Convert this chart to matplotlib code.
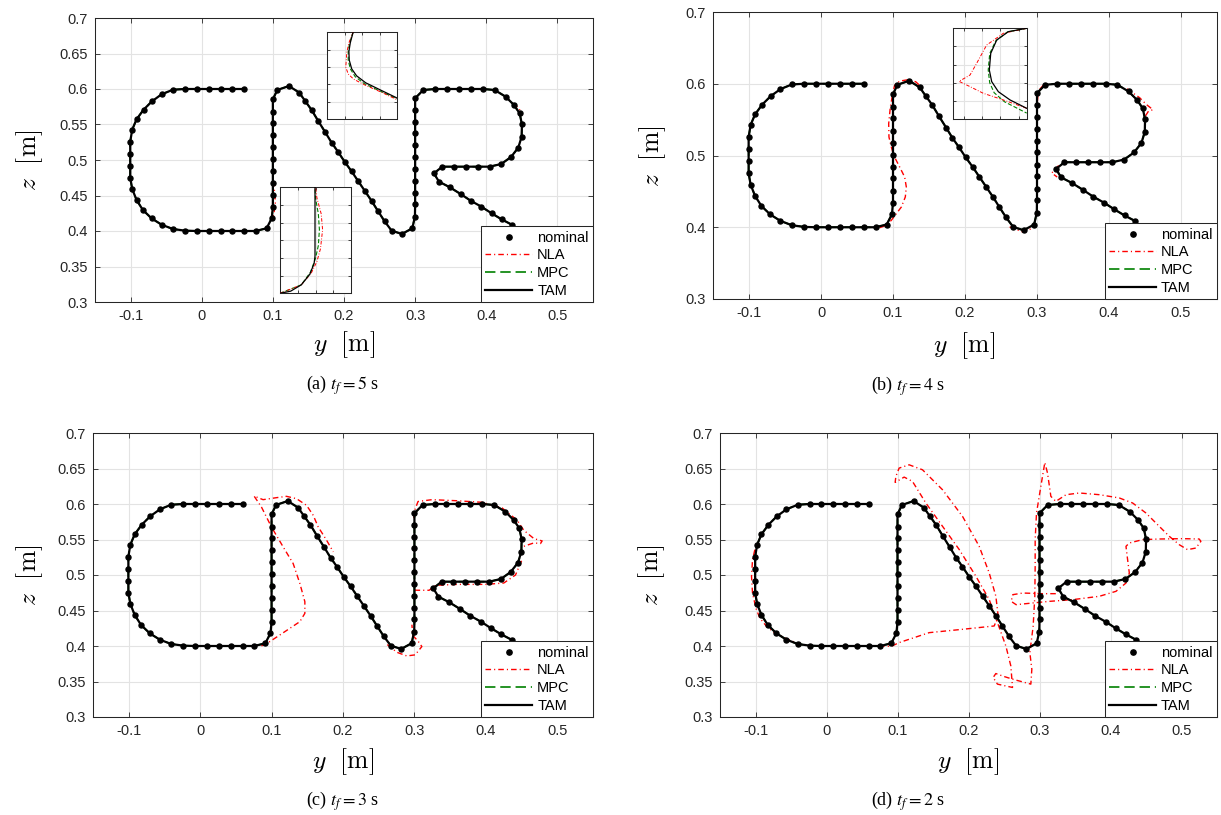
import matplotlib
matplotlib.use("Agg")
import matplotlib.pyplot as plt
from matplotlib.lines import Line2D

plt.rcParams['font.family'] = ['Liberation Sans', 'DejaVu Sans']
plt.rcParams['lines.scale_dashes'] = False

# ---------------- data (metres) ----------------
NOM_Y = [0.0598, 0.0429, 0.0265, 0.0097, -0.0072, -0.0236, -0.0405, -0.0564, -0.0700, -0.0817,
         -0.0916, -0.0977, -0.1005, -0.1005, -0.1005, -0.1005, -0.0977, -0.0916, -0.0827, -0.0705,
         -0.0564, -0.0405, -0.0236, -0.0072, 0.0097, 0.0265, 0.0429, 0.0598, 0.0757, 0.0912,
         0.0985, 0.1000, 0.1000, 0.1000, 0.1000, 0.1000, 0.1000, 0.1000, 0.1000, 0.1000,
         0.1000, 0.1062, 0.1226, 0.1370, 0.1455, 0.1545, 0.1638, 0.1737, 0.1826, 0.1915,
         0.2008, 0.2107, 0.2201, 0.2294, 0.2388, 0.2477, 0.2571, 0.2669, 0.2814, 0.2960,
         0.2997, 0.3000, 0.3000, 0.3000, 0.3000, 0.3000, 0.3000, 0.3000, 0.3000, 0.3000,
         0.3000, 0.3114, 0.3283, 0.3447, 0.3616, 0.3784, 0.3953, 0.4117, 0.4272, 0.4389,
         0.4469, 0.4501, 0.4497, 0.4450, 0.4347, 0.4211, 0.4047, 0.3878, 0.3710, 0.3545,
         0.3381, 0.3264, 0.3335, 0.3489, 0.3639, 0.3780, 0.3930, 0.4075, 0.4216, 0.4366]
NOM_Z = [0.600, 0.600, 0.600, 0.600, 0.600, 0.600, 0.599, 0.5925, 0.5826, 0.5709,
         0.5573, 0.5427, 0.5258, 0.5089, 0.4920, 0.4751, 0.4592, 0.4437, 0.4296, 0.4178,
         0.4089, 0.4028, 0.4005, 0.400, 0.400, 0.400, 0.400, 0.400, 0.400, 0.4038,
         0.4180, 0.4343, 0.4507, 0.4681, 0.4845, 0.5010, 0.5178, 0.5347, 0.5516, 0.5681,
         0.5854, 0.5986, 0.6042, 0.5950, 0.5830, 0.5704, 0.5549, 0.5390, 0.5244, 0.5117,
         0.4977, 0.4840, 0.4700, 0.4563, 0.4423, 0.4282, 0.4136, 0.4005, 0.3958, 0.4038,
         0.4202, 0.4376, 0.4540, 0.4709, 0.4873, 0.5042, 0.5207, 0.5376, 0.5535, 0.5704,
         0.5869, 0.5986, 0.600, 0.600, 0.600, 0.600, 0.600, 0.5986, 0.5892, 0.5775,
         0.5657, 0.5502, 0.5329, 0.5174, 0.5042, 0.4944, 0.4906, 0.4906, 0.4906, 0.4906,
         0.4906, 0.4812, 0.4695, 0.4615, 0.4521, 0.4427, 0.4343, 0.4249, 0.4164, 0.4085]

# NLA visible deviations (segments), per panel
NLA_A_Y = [[0.1000, 0.1025, 0.1035, 0.1015, 0.0990],
           [0.4380, 0.4465, 0.4490]]
NLA_A_Z = [[0.4700, 0.4550, 0.4400, 0.4250, 0.4150],
           [0.5800, 0.5720, 0.5620]]

NLA_B_Y = [[0.0815, 0.0907, 0.0977, 0.1046, 0.1116, 0.1171, 0.1185, 0.1162, 0.1093, 0.1009,
            0.0977, 0.0944, 0.0940, 0.0963, 0.1000, 0.1023, 0.1093, 0.1208, 0.1315, 0.1407],
           [0.4250, 0.4426, 0.4520, 0.4611, 0.4550, 0.4505],
           [0.3300, 0.3205, 0.3280],
           [0.2620, 0.2806, 0.2921],
           [0.3005, 0.3020, 0.3100]]
NLA_B_Z = [[0.3994, 0.4027, 0.4097, 0.4189, 0.4282, 0.4422, 0.4561, 0.4700, 0.4839, 0.5002,
            0.5118, 0.5257, 0.5443, 0.5675, 0.5884, 0.5977, 0.6037, 0.6056, 0.6028, 0.5944],
           [0.5930, 0.5805, 0.5710, 0.5638, 0.5620, 0.5550],
           [0.4860, 0.4756, 0.4700],
           [0.4004, 0.3934, 0.3980],
           [0.5750, 0.5900, 0.5995]]

NLA_C_Y = [[0.0858, 0.0975, 0.1115, 0.1256, 0.1396, 0.1466, 0.1466, 0.1396, 0.1302, 0.1162,
            0.0998, 0.0858, 0.0755, 0.0881, 0.1068, 0.1209, 0.1349, 0.1490, 0.1583, 0.1653,
            0.1770, 0.1864],
           [0.2620, 0.2753, 0.2893, 0.3010, 0.3104, 0.3050, 0.2975, 0.2965],
           [0.2995, 0.3000, 0.3050, 0.3245, 0.3573, 0.3947, 0.4228, 0.4438, 0.4531, 0.4672,
            0.4788, 0.4765, 0.4672, 0.4508],
           [0.4500, 0.4415, 0.4251, 0.4000, 0.3600, 0.3300, 0.3206, 0.3050, 0.2995]]
NLA_C_Z = [[0.4001, 0.4062, 0.4155, 0.4249, 0.4343, 0.4460, 0.4624, 0.4881, 0.5162, 0.5396,
            0.5677, 0.5958, 0.6112, 0.6061, 0.6089, 0.6108, 0.6075, 0.5981, 0.5841, 0.5677,
            0.5490, 0.5326],
           [0.4020, 0.3912, 0.3860, 0.3875, 0.3992, 0.4070, 0.4150, 0.4300],
           [0.5800, 0.5900, 0.6035, 0.6061, 0.6047, 0.6024, 0.5944, 0.5771, 0.5630, 0.5513,
            0.5480, 0.5443, 0.5452, 0.5396],
           [0.5200, 0.5000, 0.4887, 0.4868, 0.4868, 0.4855, 0.4785, 0.4785, 0.4787]]

NLA_D_Y = [[-0.1009, -0.1042, -0.1056, -0.1042, -0.0995, -0.0939, -0.0845, -0.0728, -0.0587, -0.0423],
           [0.0742, 0.0913, 0.1023, 0.1446, 0.1915, 0.2362, 0.2418, 0.2385, 0.2291, 0.2150,
            0.1915, 0.1634, 0.1352, 0.1164, 0.1023, 0.0977, 0.0967, 0.1094, 0.1211, 0.1399,
            0.1634, 0.1869, 0.2103, 0.2291, 0.2408, 0.2526, 0.2596, 0.2620, 0.2408, 0.2347,
            0.2385, 0.2502, 0.2620, 0.2878, 0.2892, 0.2864, 0.2911, 0.2934, 0.2939, 0.2939,
            0.2958, 0.3019, 0.3075, 0.3113, 0.3160, 0.3230, 0.3374, 0.3562, 0.3843, 0.4124,
            0.4312, 0.4499, 0.4687, 0.4828, 0.4968, 0.5085, 0.5203, 0.5273, 0.5249, 0.5015,
            0.4687, 0.4452, 0.4265, 0.4218, 0.4241, 0.4265, 0.4218, 0.4077, 0.3843, 0.3468,
            0.3140, 0.2905, 0.2671, 0.2601, 0.2624, 0.2765, 0.3046, 0.3233, 0.3257]]
NLA_D_Z = [[0.5357, 0.5216, 0.4981, 0.4746, 0.4535, 0.4394, 0.4277, 0.4183, 0.4113, 0.4042],
           [0.4001, 0.3995, 0.4048, 0.4188, 0.4235, 0.4282, 0.4422, 0.4703, 0.5031, 0.5405,
            0.5827, 0.6201, 0.6482, 0.6552, 0.6506, 0.6389, 0.6304, 0.6379, 0.6318, 0.6014,
            0.5686, 0.5359, 0.4984, 0.4656, 0.4329, 0.4001, 0.3720, 0.3416, 0.3463, 0.3556,
            0.3612, 0.3570, 0.3533, 0.3463, 0.3673, 0.3907, 0.4282, 0.4703, 0.5125, 0.5499,
            0.5874, 0.6248, 0.6585, 0.6435, 0.6108, 0.6037, 0.6131, 0.6155, 0.6131, 0.6085,
            0.6014, 0.5873, 0.5685, 0.5545, 0.5427, 0.5357, 0.5380, 0.5474, 0.5507, 0.5512,
            0.5507, 0.5498, 0.5451, 0.5404, 0.5216, 0.5028, 0.4887, 0.4770, 0.4700, 0.4653,
            0.4629, 0.4606, 0.4582, 0.4629, 0.4723, 0.4746, 0.4737, 0.4737, 0.4793]]

# inset curves (normalised inset coordinates)
INS_A1_TAM_X = [0.37, 0.33, 0.31, 0.315, 0.35, 0.42, 0.55, 0.78, 1.0]
INS_A1_TAM_Y = [1.0, 0.88, 0.78, 0.68, 0.58, 0.50, 0.42, 0.33, 0.245]
INS_A1_MPC_X = [0.37, 0.32, 0.30, 0.30, 0.33, 0.40, 0.53, 0.77, 1.0]
INS_A1_MPC_Y = [1.0, 0.88, 0.78, 0.68, 0.58, 0.49, 0.41, 0.32, 0.235]
INS_A1_NLA_X = [0.37, 0.31, 0.28, 0.265, 0.30, 0.38, 0.55, 0.78, 1.0]
INS_A1_NLA_Y = [1.0, 0.88, 0.77, 0.60, 0.52, 0.46, 0.39, 0.31, 0.225]

INS_A2_TAM_X = [0.0, 0.15, 0.30, 0.42, 0.48, 0.493, 0.493]
INS_A2_TAM_Y = [0.0, 0.02, 0.08, 0.18, 0.28, 0.35, 1.0]
INS_A2_MPC_X = [0.0, 0.30, 0.43, 0.50, 0.54, 0.555, 0.54, 0.50, 0.493]
INS_A2_MPC_Y = [0.0, 0.08, 0.20, 0.33, 0.45, 0.60, 0.75, 0.90, 1.0]
INS_A2_NLA_X = [0.0, 0.30, 0.44, 0.52, 0.57, 0.60, 0.58, 0.52, 0.50]
INS_A2_NLA_Y = [0.0, 0.08, 0.19, 0.30, 0.42, 0.60, 0.75, 0.90, 1.0]

INS_B_TAM_X = [1.0, 0.752, 0.595, 0.514, 0.495, 0.527, 0.617, 0.775, 1.0]
INS_B_TAM_Y = [1.0, 0.963, 0.871, 0.724, 0.540, 0.412, 0.301, 0.210, 0.118]
INS_B_MPC_X = [1.0, 0.74, 0.58, 0.50, 0.48, 0.50, 0.56, 0.70, 1.0]
INS_B_MPC_Y = [1.0, 0.96, 0.86, 0.72, 0.54, 0.40, 0.29, 0.19, 0.065]
INS_B_NLA_X = [1.0, 0.685, 0.459, 0.324, 0.234, 0.086, 0.234, 0.414, 0.685, 1.0]
INS_B_NLA_Y = [1.0, 0.945, 0.816, 0.614, 0.485, 0.415, 0.357, 0.283, 0.210, 0.118]

X_TICKS = [-0.1, 0, 0.1, 0.2, 0.3, 0.4, 0.5]
X_TICKLABELS = ['-0.1', '0', '0.1', '0.2', '0.3', '0.4', '0.5']
Z_TICKS_FINE = [0.3, 0.35, 0.4, 0.45, 0.5, 0.55, 0.6, 0.65, 0.7]
Z_TICKLABELS_FINE = ['0.3', '0.35', '0.4', '0.45', '0.5', '0.55', '0.6', '0.65', '0.7']
Z_TICKS_COARSE = [0.3, 0.4, 0.5, 0.6, 0.7]
Z_TICKLABELS_COARSE = ['0.3', '0.4', '0.5', '0.6', '0.7']
CAPTIONS = [r'(a) $t_f = 5$ s', r'(b) $t_f = 4$ s', r'(c) $t_f = 3$ s', r'(d) $t_f = 2$ s']

# ---------------- styling ----------------
W, H = 1221, 815
DARK = '#262626'
GRID = '#e3e3e3'
RED = '#ff0000'
GREEN = '#008000'
NLA_LS = (0, (4.0, 2.2, 0.8, 2.2))
MPC_LS = (0, (7.5, 3.5))

fig = plt.figure(figsize=(W / 100, H / 100), dpi=100)


def px_rect(x0, y0, x1, y1):
    return [x0 / W, (H - y1) / H, (x1 - x0) / W, (y1 - y0) / H]


def style_axes(ax, xt, xtl, yt, ytl, labelsize=10.5, ticklen=3.5):
    for s in ax.spines.values():
        s.set_color(DARK)
        s.set_linewidth(0.75)
    ax.set_xticks(xt)
    ax.set_xticklabels(xtl)
    ax.set_yticks(yt)
    ax.set_yticklabels(ytl)
    ax.tick_params(direction='in', length=ticklen, width=0.6, colors=DARK,
                   labelsize=labelsize, top=True, right=True, pad=5)
    ax.grid(True, color=GRID, linewidth=0.8)
    ax.set_axisbelow(True)


panels = [
    dict(rect=px_rect(95, 18, 593, 302), zt=Z_TICKS_FINE, ztl=Z_TICKLABELS_FINE,
         nla=(NLA_A_Y, NLA_A_Z), xlab=(344, 345), ylab=(30, 160), cap=(343, 385)),
    dict(rect=px_rect(713, 12, 1217, 299), zt=Z_TICKS_COARSE, ztl=Z_TICKLABELS_COARSE,
         nla=(NLA_B_Y, NLA_B_Z), xlab=(964, 346), ylab=(653, 156), cap=(908, 386)),
    dict(rect=px_rect(93, 433, 593, 717), zt=Z_TICKS_FINE, ztl=Z_TICKLABELS_FINE,
         nla=(NLA_C_Y, NLA_C_Z), xlab=(343, 762), ylab=(30, 575), cap=(343, 801)),
    dict(rect=px_rect(720, 433, 1217, 717), zt=Z_TICKS_FINE, ztl=Z_TICKLABELS_FINE,
         nla=(NLA_D_Y, NLA_D_Z), xlab=(968, 762), ylab=(652, 575), cap=(908, 801)),
]

for i, p in enumerate(panels):
    ax = fig.add_axes(p['rect'])
    ax.set_xlim(-0.15, 0.55)
    ax.set_ylim(0.3, 0.7)
    style_axes(ax, X_TICKS, X_TICKLABELS, p['zt'], p['ztl'])

    ax.plot(NOM_Y, NOM_Z, color=GREEN, ls=MPC_LS, lw=1.2, zorder=2)
    for sy, sz in zip(*p['nla']):
        ax.plot(sy, sz, color=RED, ls=NLA_LS, lw=1.0, zorder=3)
    ax.plot(NOM_Y, NOM_Z, color='black', lw=1.6, zorder=4)
    ax.plot(NOM_Y, NOM_Z, ls='none', marker='o', ms=3.6, color='black', zorder=5)

    handles = [Line2D([], [], ls='none', marker='o', ms=3.8, color='black'),
               Line2D([], [], color=RED, ls=NLA_LS, lw=1.0),
               Line2D([], [], color=GREEN, ls=MPC_LS, lw=1.2),
               Line2D([], [], color='black', lw=1.6)]
    leg = ax.legend(handles, ['nominal', 'NLA', 'MPC', 'TAM'], loc='lower right',
                    borderaxespad=0, fontsize=10.5, handlelength=3.2, handletextpad=0.35,
                    borderpad=0.3, labelspacing=0.25, fancybox=False, framealpha=1,
                    edgecolor=DARK)
    leg.get_frame().set_linewidth(0.75)
    leg.set_zorder(10)

    fig.text(p['xlab'][0] / W, 1 - p['xlab'][1] / H, r'$y\ \ [\mathrm{m}]$',
             ha='center', va='center', fontsize=18.5, math_fontfamily='cm')
    fig.text(p['ylab'][0] / W, 1 - p['ylab'][1] / H, r'$z\ \ [\mathrm{m}]$',
             ha='center', va='center', fontsize=18.5, math_fontfamily='cm', rotation=90)
    fig.text(p['cap'][0] / W, 1 - p['cap'][1] / H, CAPTIONS[i],
             ha='center', va='center', fontsize=13, family='Liberation Serif',
             math_fontfamily='stix')


def inset(rect, xt, yt, tam, mpc, nla):
    ia = fig.add_axes(rect)
    ia.set_xlim(0, 1)
    ia.set_ylim(0, 1)
    style_axes(ia, xt, [], yt, [], ticklen=2.5)
    ia.plot(mpc[0], mpc[1], color=GREEN, ls=(0, (3, 1.5)), lw=0.8, zorder=2)
    ia.plot(nla[0], nla[1], color=RED, ls=(0, (2.5, 1.2, 0.6, 1.2)), lw=0.7, zorder=3)
    ia.plot(tam[0], tam[1], color='black', lw=0.9, zorder=4)
    ia.patch.set_facecolor('white')
    ia.set_zorder(20)


inset(px_rect(327.3, 32.3, 397, 119.3), [0.25, 0.5, 0.75], [0.2, 0.4, 0.6, 0.8],
      (INS_A1_TAM_X, INS_A1_TAM_Y), (INS_A1_MPC_X, INS_A1_MPC_Y), (INS_A1_NLA_X, INS_A1_NLA_Y))
inset(px_rect(280, 187.3, 351, 293.3), [0.25, 0.5, 0.75], [1/6, 2/6, 3/6, 4/6, 5/6],
      (INS_A2_TAM_X, INS_A2_TAM_Y), (INS_A2_MPC_X, INS_A2_MPC_Y), (INS_A2_NLA_X, INS_A2_NLA_Y))
inset(px_rect(952.7, 28.3, 1026.7, 119), [0.148, 0.396, 0.644, 0.892], [0.2, 0.4, 0.6, 0.8],
      (INS_B_TAM_X, INS_B_TAM_Y), (INS_B_MPC_X, INS_B_MPC_Y), (INS_B_NLA_X, INS_B_NLA_Y))

fig.savefig('out.png', dpi=100)
